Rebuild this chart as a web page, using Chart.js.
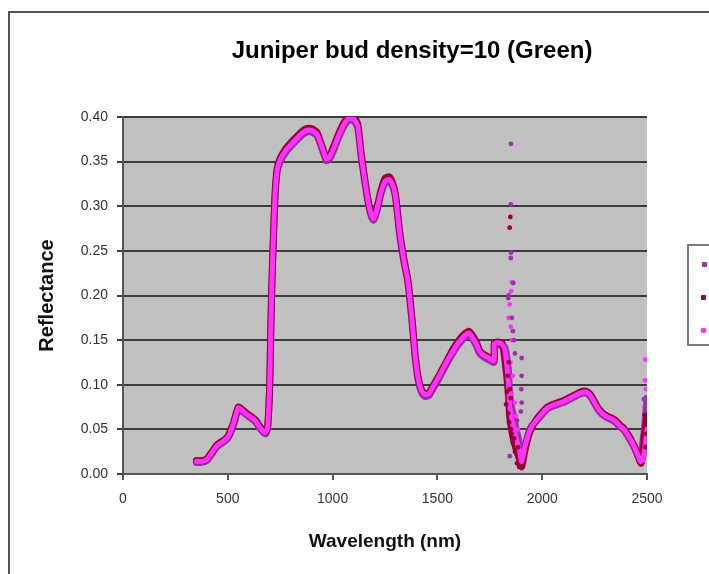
<!DOCTYPE html>
<html>
<head>
<meta charset="utf-8">
<script src="https://cdn.jsdelivr.net/npm/chart.js@4.4.1/dist/chart.umd.min.js"></script>
<style>
  html, body { margin: 0; padding: 0; background: #fff; overflow: hidden; }
  #wrap { position: relative; width: 709px; height: 574px; }
  #frame { position: absolute; left: 8px; top: 11px; width: 760px; height: 620px; border: 2px solid #555; }
  #chart { position: absolute; left: 0; top: 0; }
  #title { position: absolute; left: 0; top: 36px; width: 824px; text-align: center; line-height: 28px;
           font: bold 24px Arial, "Liberation Sans", sans-serif; color: #000; white-space: nowrap; }
  #legend { position: absolute; left: 687px; top: 244px; width: 60px; height: 98px; border: 2px solid #7a7a7a; background: #fff; }
  #legend span { position: absolute; width: 5px; height: 5px; border-radius: 1px; }
</style>
</head>
<body>
<div id="wrap">
  <div id="frame"></div>
  <canvas id="chart" width="709" height="574"></canvas>
  <div id="title">Juniper bud density=10 (Green)</div>
  <div id="legend">
    <span style="left:13px;top:16px;background:#9933aa"></span>
    <span style="left:12px;top:49px;background:#990033"></span>
    <span style="left:12px;top:82px;background:#ff33ff"></span>
  </div>
</div>
<script>
// Data
const wavelength = [
  350, 375, 400, 425, 450, 475, 500, 525, 550, 565,
  590, 630, 660, 680, 690, 700, 705, 710, 717, 725,
  735, 750, 775, 800, 825, 850, 875, 900, 925, 950,
  970, 985, 1000, 1025, 1050, 1075, 1100, 1120, 1135, 1150,
  1165, 1180, 1195, 1210, 1230, 1250, 1270, 1285, 1300, 1320,
  1340, 1360, 1380, 1395, 1410, 1425, 1440, 1460, 1480, 1500,
  1525, 1550, 1575, 1600, 1625, 1650, 1665, 1685, 1700, 1720,
  1745, 1770, 1772, 1790, 1810, 1822, 1838, 1846, 1862, 1878,
  1894, 1902, 1918, 1935, 1950, 1975, 2000, 2025, 2050, 2075,
  2100, 2125, 2150, 2175, 2200, 2215, 2230, 2250, 2270, 2290,
  2310, 2330, 2350, 2370, 2390, 2410, 2425, 2440, 2455, 2470,
  2480, 2490, 2500
];

const reflPurple = [
  .013, .013, .015, .023, .031, .035, .040, .053, .072, .071,
  .066, .059, .049, .045, .051, .098, .158, .208, .258, .308,
  .338, .350, .360, .367, .373, .379, .383, .383, .379, .364,
  .351, .353, .360, .375, .388, .396, .396, .388, .358, .333,
  .310, .292, .284, .293, .313, .326, .328, .323, .310, .268,
  .238, .213, .168, .128, .103, .091, .087, .088, .096, .104,
  .115, .126, .136, .145, .152, .156, .152, .144, .136, .131,
  .128, .125, .144, .145, .143, .142, .118, .085, .065, .048,
  .030, .018, .032, .046, .054, .060, .067, .073, .076, .078,
  .080, .083, .086, .089, .091, .090, .087, .079, .071, .066,
  .063, .061, .058, .053, .049, .042, .036, .029, .021, .016,
  .035, .055, .085
];

const reflRed = [
  .015, .015, .017, .025, .033, .037, .042, .056, .075, .073,
  .068, .061, .051, .046, .053, .101, .162, .212, .262, .312,
  .342, .354, .364, .371, .377, .383, .387, .387, .383, .367,
  .354, .356, .364, .379, .392, .400, .400, .392, .362, .336,
  .313, .295, .287, .297, .317, .331, .333, .327, .313, .271,
  .241, .216, .171, .131, .106, .094, .090, .091, .099, .107,
  .118, .129, .140, .149, .156, .160, .156, .148, .139, .134,
  .131, .128, .147, .148, .146, .128, .092, .062, .040, .026,
  .015, .008, .027, .043, .052, .062, .069, .075, .078, .080,
  .082, .085, .088, .091, .093, .092, .089, .081, .073, .068,
  .065, .063, .060, .055, .051, .044, .038, .031, .022, .012,
  .020, .045, .065
];

const reflPink = [
  .014, .014, .016, .024, .032, .036, .041, .055, .074, .072,
  .067, .060, .050, .046, .052, .100, .160, .210, .260, .310,
  .340, .352, .362, .369, .375, .381, .385, .385, .381, .366,
  .353, .355, .362, .377, .390, .398, .398, .390, .360, .335,
  .312, .294, .286, .295, .315, .328, .330, .325, .312, .270,
  .240, .215, .170, .130, .105, .093, .089, .090, .098, .106,
  .117, .128, .138, .147, .154, .158, .154, .146, .138, .133,
  .130, .127, .146, .147, .145, .139, .105, .075, .053, .038,
  .023, .014, .031, .045, .053, .061, .068, .074, .077, .079,
  .081, .084, .087, .090, .092, .091, .088, .080, .072, .067,
  .064, .062, .059, .054, .050, .043, .037, .030, .022, .014,
  .016, .030, .050
];

// scattered points in the water absorption bands
const noisePurpleWl = [1851, 1850, 1851, 1850, 1862, 1840, 1838, 1855, 1860, 1866, 1870, 1902, 1902, 1900, 1902, 1898, 1880, 1845, 2485, 2490];
const noisePurpleR  = [.370, .302, .248, .242, .214, .200, .197, .175, .160, .150, .135, .130, .110, .095, .080, .070, .060, .020, .084, .075];
const noiseRedWl = [1848, 1845, 1840, 1836, 1845, 1850, 1838, 1842, 1855, 1860, 1870, 1880, 1885, 1890, 1832, 1828, 1852, 1866, 2488, 2495, 2497, 2492];
const noiseRedR  = [.288, .276, .125, .110, .095, .085, .068, .058, .045, .035, .025, .012, .030, .008, .092, .078, .050, .040, .066, .060, .045, .030];
const noisePinkWl = [1855, 1852, 1845, 1840, 1850, 1856, 1848, 1860, 1855, 1870, 1875, 1884, 2490, 2492, 2495, 2498, 2497];
const noisePinkR  = [.215, .205, .190, .175, .165, .150, .125, .110, .090, .080, .065, .050, .105, .128, .095, .040, .030];

const xTicks = [0, 500, 1000, 1500, 2000, 2500];
const yTicks = [0, 0.05, 0.10, 0.15, 0.20, 0.25, 0.30, 0.35, 0.40];

const toPoints = (xs, ys) => xs.map((x, i) => ({ x: x, y: ys[i] }));
const FONT = 'Arial, "Liberation Sans", sans-serif';

const plotBg = {
  id: 'plotBg',
  beforeDraw(chart) {
    const { ctx, chartArea: a } = chart;
    ctx.save();
    ctx.fillStyle = '#c0c0c0';
    ctx.fillRect(a.left, a.top, a.right - a.left, a.bottom - a.top);
    ctx.restore();
  }
};

const lineSet = (label, ys, color, width, order) => ({
  label: label,
  data: toPoints(wavelength, ys),
  showLine: true,
  borderColor: color,
  backgroundColor: color,
  borderWidth: width,
  pointRadius: 0,
  tension: 0.2,
  borderCapStyle: 'round',
  borderJoinStyle: 'round',
  order: order
});

const dotSet = (label, xs, ys, color) => ({
  label: label,
  data: toPoints(xs, ys),
  showLine: false,
  pointRadius: 2.4,
  pointBorderWidth: 0,
  backgroundColor: color,
  borderColor: color,
  order: 0
});

new Chart(document.getElementById('chart'), {
  type: 'scatter',
  data: {
    datasets: [
      lineSet('Series1', reflPurple, '#9933aa', 7, 3),
      lineSet('Series2', reflRed, '#990033', 7, 2),
      lineSet('Series3', reflPink, '#ff33ff', 5, 1),
      dotSet('Series1 pts', noisePurpleWl, noisePurpleR, '#9933aa'),
      dotSet('Series2 pts', noiseRedWl, noiseRedR, '#990033'),
      dotSet('Series3 pts', noisePinkWl, noisePinkR, '#ff33ff')
    ]
  },
  options: {
    responsive: false,
    animation: false,
    layout: { padding: { left: 0, right: 62, top: 117, bottom: 0 } },
    plugins: {
      legend: { display: false },
      tooltip: { enabled: false },
      title: { display: false }
    },
    scales: {
      x: {
        type: 'linear',
        min: 0,
        max: 2500,
        afterFit: s => { s.height = 100; },
        afterBuildTicks: s => { s.ticks = xTicks.map(v => ({ value: v })); },
        ticks: {
          color: '#333',
          padding: 11,
          font: { family: FONT, size: 14 },
          callback: v => String(v)
        },
        grid: { drawOnChartArea: false, drawTicks: true, tickLength: 6, color: '#555', lineWidth: 2 },
        border: { display: true, color: '#555', width: 2 },
        title: {
          display: true,
          text: 'Wavelength (nm)',
          color: '#111',
          font: { family: FONT, size: 19, weight: 'bold' },
          padding: { top: 0, bottom: 21 }
        }
      },
      y: {
        min: 0,
        max: 0.4,
        afterFit: s => { s.width = 123; },
        afterBuildTicks: s => { s.ticks = yTicks.map(v => ({ value: v })); },
        ticks: {
          color: '#333',
          padding: 9,
          font: { family: FONT, size: 14 },
          callback: v => Number(v).toFixed(2)
        },
        grid: { drawTicks: true, tickLength: 6, color: '#3c3c3c', lineWidth: 2 },
        border: { display: true, color: '#555', width: 2 },
        title: {
          display: true,
          text: 'Reflectance',
          color: '#111',
          font: { family: FONT, size: 20, weight: 'bold' },
          padding: { top: 35, bottom: 0 }
        }
      }
    }
  },
  plugins: [plotBg]
});
</script>
</body>
</html>
